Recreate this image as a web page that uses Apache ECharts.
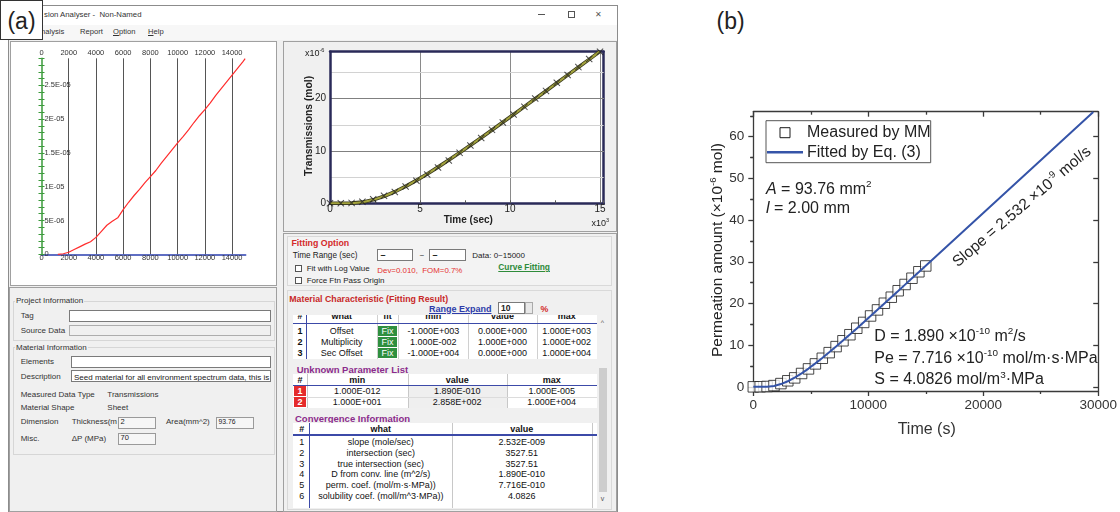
<!DOCTYPE html>
<html><head><meta charset="utf-8">
<script src="https://cdn.jsdelivr.net/npm/echarts@6/dist/echarts.min.js"></script>
<style>
html,body{margin:0;padding:0;background:#fff;width:1120px;height:512px;overflow:hidden;font-family:"Liberation Sans",Arial,sans-serif;}
#ui{position:absolute;left:0;top:0;width:1120px;height:512px;overflow:hidden;}
#chart{position:absolute;left:0;top:0;width:1120px;height:512px;z-index:2;}
.a{position:absolute;box-sizing:border-box;white-space:nowrap;}
</style></head><body>
<div id="ui"></div><div id="chart"></div>
<script>
// ---------------- data ----------------
const measT = [0,600,1200,1800,2400,3000,3600,4200,4800,5400,6000,6600,7200,7800,8400,9000,9600,10200,10800,11400,12000,12600,13200,13800,14400,15000];
const measQ = [0.00,0.02,0.08,0.30,0.78,1.45,2.15,3.20,4.30,5.50,6.85,8.20,9.65,11.05,12.50,14.05,15.45,17.00,18.45,20.05,21.50,23.05,24.55,26.05,27.60,29.00];
const fitT = [0,600,1200,1800,2400,3000,3600,4200,4800,5400,6000,6600,7200,7800,8400,9000,9600,10200,10800,11400,12000,12600,13200,13800,14400,15000,20000,25000,29570];
const fitQ = [0.00,0.00,0.03,0.22,0.66,1.34,2.21,3.23,4.38,5.62,6.92,8.28,9.68,11.11,12.55,14.02,15.50,16.99,18.49,19.99,21.49,23.00,24.52,26.03,27.54,29.06,41.71,54.37,65.94];
const rawT = [1200,1600,2000,2400,2800,3200,3600,4000,4400,4800,5200,5600,6000,6400,6800,7200,7600,8000,8400,8800,9200,9600,10000,10400,10800,11200,11600,12000,12400,12800,13200,13600,14000,14400,14800,14960];
const rawQ = [0.00,0.08,0.30,0.70,1.10,1.50,1.85,2.50,3.40,4.30,4.90,5.40,6.60,7.70,8.70,9.60,10.60,11.50,12.40,13.50,14.50,15.50,16.50,17.40,18.40,19.50,20.50,21.40,22.40,23.50,24.50,25.50,26.50,27.50,28.50,28.95];

const a1XTicks = [0,2000,4000,6000,8000,10000,12000,14000];
const a1YTickLabels = ['0','5E-06','1E-05','1.5E-05','2E-05','2.5E-05'];
const a2XTicks = [0,5,10,15];
const a2YTicks = [0,10,20];
const bXTicks = [0,10000,20000,30000];
const bYTicks = [0,10,20,30,40,50,60];
const bYMinor = [5,15,25,35,45,55,65];

const matHeader = ['#','what','fit','min','value','max'];
const matRows = [
  ['1','Offset','Fix','-1.000E+003','0.000E+000','1.000E+003'],
  ['2','Multiplicity','Fix','1.000E-002','1.000E+000','1.000E+002'],
  ['3','Sec Offset','Fix','-1.000E+004','0.000E+000','1.000E+004']];
const unkHeader = ['#','min','value','max'];
const unkRows = [['1','1.000E-012','1.890E-010','1.000E-005'],['2','1.000E+001','2.858E+002','1.000E+004']];
const convHeader = ['#','what','value',''];
const convRows = [
  ['1','slope (mole/sec)','2.532E-009'],
  ['2','intersection (sec)','3527.51'],
  ['3','true intersection (sec)','3527.51'],
  ['4','D from conv. line (m^2/s)','1.890E-010'],
  ['5','perm. coef. (mol/m·s·MPa))','7.716E-010'],
  ['6','solubility coef. (moll/m^3·MPa))','4.0826']];

// ---------------- UI (software window) ----------------
const U = document.getElementById('ui');
function mk(p,x,y,w,h,css,html){
  const d=document.createElement('div'); d.className='a';
  const ox=p._ox||0, oy=p._oy||0;
  d.style.cssText=`left:${x-ox}px;top:${y-oy}px;width:${w}px;height:${h}px;`+(css||'');
  d._ox=x; d._oy=y; if(html!=null) d.innerHTML=html; p.appendChild(d); return d;
}
function tx(p,x,yc,s,fs,css){const h=Math.round(fs*1.6);return mk(p,x,yc-h/2,400,h,`line-height:${h}px;font-size:${fs}px;color:#222;`+(css||''),s);}
function ct(p,x1,x2,yc,s,fs,css){const h=Math.round(fs*1.6);return mk(p,x1,yc-h/2,x2-x1,h,`line-height:${h}px;font-size:${fs}px;color:#111;text-align:center;overflow:hidden;`+(css||''),s);}

mk(U,8,5,610,507,'border:1px solid #8c8c8c;background:#f0f0f0;');
mk(U,9,6,608,19,'background:#fff;');
tx(U,44,14.5,'sion Analyser -&nbsp; Non-Named',7.8,'color:#333;');
mk(U,538,14,7,1,'background:#555;');
mk(U,567.5,10.5,7,7,'border:1px solid #555;');
tx(U,595,14,'✕',8,'color:#555;');
mk(U,9,25,608,15,'background:#f7f7f7;');
tx(U,36,31.5,'Analysis',7.6,'color:#333;');
tx(U,80,31.5,'Report',7.6,'color:#333;');
tx(U,113,31.5,'<u>O</u>ption',7.6,'color:#333;');
tx(U,148,31.5,'<u>H</u>elp',7.6,'color:#333;');
// panels
mk(U,10,40.5,267,245,'background:#fff;border:1px solid #a0a0a0;');
mk(U,9,287,268,225,'border:1px solid #a0a0a0;background:#f0f0f0;');
mk(U,283,40.5,334,191,'border:1px solid #a0a0a0;background:#f0f0f0;');
mk(U,283,233,334,279,'border:1px solid #a0a0a0;background:#f0f0f0;');

// lower-left information
mk(U,12.7,300.7,262.3,40.3,'border:1px solid #d6d6d6;');
tx(U,15,300.7,'Project Information',8,'background:#f0f0f0;width:auto;padding:0 1px;color:#333;');
tx(U,20.7,315.7,'Tag',8,'color:#333;'); mk(U,69.3,310,201.4,11.5,'background:#fff;border:1px solid #7a7a7a;');
tx(U,20.7,330.3,'Source Data',8,'color:#333;'); mk(U,69.3,324.5,201.4,11.5,'background:#f0f0f0;border:1px solid #adadad;');
mk(U,12.7,347.3,262.3,108,'border:1px solid #d6d6d6;');
tx(U,15,347.3,'Material Information',8,'background:#f0f0f0;width:auto;padding:0 1px;color:#333;');
tx(U,20.7,361.7,'Elements',8,'color:#333;'); mk(U,70.7,355.7,200,12,'background:#fff;border:1px solid #7a7a7a;');
tx(U,20.7,376,'Description',8,'color:#333;');
const dsc=mk(U,70.7,370,200,12,'background:#fff;border:1px solid #7a7a7a;overflow:hidden;');
tx(dsc,73,376,'Seed material for all environment spectrum data, this is',8,'color:#222;');
tx(U,20.7,394,'Measured Data Type',8,'color:#333;'); tx(U,107.3,394,'Transmissions',8,'color:#333;');
tx(U,20.7,407.3,'Material Shape',8,'color:#333;'); tx(U,107.3,407.3,'Sheet',8,'color:#333;');
tx(U,20.7,421.7,'Dimension',8,'color:#333;'); tx(U,71.7,421.7,'Thickness(m',8,'color:#333;');
mk(U,118.3,416.7,37.7,12,'background:#f6f6f6;border:1px solid #9a9a9a;'); tx(U,120.5,421.5,'2',7.5);
tx(U,166,421.7,'Area(mm^2)',8,'color:#333;');
mk(U,216,416.7,38,12,'background:#f6f6f6;border:1px solid #9a9a9a;'); tx(U,218.5,421.5,'93.76',6.8);
tx(U,20.7,438.3,'Misc.',8,'color:#333;'); tx(U,71.7,438.3,'ΔP (MPa)',8,'color:#333;');
mk(U,118.3,433,37.7,11.5,'background:#f6f6f6;border:1px solid #9a9a9a;'); tx(U,120.5,438,'70',7.5);

// fitting option
mk(U,287,236,325,50,'border:1px solid #d9d9d9;background:#f3f3f3;');
tx(U,291.5,242.7,'Fitting Option',8.8,'font-weight:bold;color:#d42a2a;');
tx(U,292.7,255,'Time Range (sec)',8.2);
mk(U,376.7,249,36.6,11.7,'background:#fff;border:1px solid #7a7a7a;'); tx(U,380.5,254.7,'–',9,'font-weight:bold;');
tx(U,419.5,255,'~',8);
mk(U,429.3,249,36.4,11.7,'background:#fff;border:1px solid #7a7a7a;'); tx(U,432.5,254.7,'–',9,'font-weight:bold;');
tx(U,472.3,255,'Data: 0~15000',8);
mk(U,295,265,7,7,'background:#fff;border:1px solid #555;'); tx(U,306.7,268.5,'Fit with Log Value',8);
tx(U,377.3,270,'Dev=0.010,&nbsp; FOM=0.7%',7.9,'color:#e53030;');
tx(U,498.3,267.7,'Curve Fitting',8.4,'font-weight:bold;color:#2e8b3a;text-decoration:underline;');
mk(U,295,276.5,7,7,'background:#fff;border:1px solid #555;'); tx(U,306.7,280,'Force Ftn Pass Origin',8);

// material characteristic
mk(U,287,290,325,220,'border:1px solid #d9d9d9;');
tx(U,289.3,299,'Material Characteristic (Fitting Result)',8.8,'font-weight:bold;color:#c82828;');
tx(U,429,308.5,'Range Expand',9,'font-weight:bold;color:#2d3caa;text-decoration:underline;');
mk(U,498.3,302.2,26.7,11.6,'background:#fff;border:1px solid #7a7a7a;'); tx(U,501,308,'10',8.5,'font-weight:bold;');
mk(U,525,302.2,8,11.6,'background:#e8e8e8;border:1px solid #aaa;');
tx(U,540.5,308.5,'%',8.8,'font-weight:bold;color:#d42a2a;');

// table 1
const c1=[293.3,306.7,376.7,398.3,468.3,536.7,596.7];
const t1=mk(U,293.3,315,303.4,43.5,'background:#fff;overflow:hidden;');
for(let i=2;i<c1.length-1;i++) mk(t1,c1[i],315,1,45,'background:#d0d0d0;');
matHeader.forEach((h,i)=>ct(t1,c1[i],c1[i+1],315.5,h,9,'font-weight:bold;'));
mk(t1,293.3,322.6,303.4,1.5,'background:#3c4aa8;');
mk(t1,c1[1]-1,315,1.5,45,'background:#3c4aa8;');
matRows.forEach((r,ri)=>{const yc=330.7+ri*11;r.forEach((c,ci)=>{
  if(ci===2){mk(t1,c1[2]+1.5,yc-5.2,c1[3]-c1[2]-3,10.4,'background:#2f8f3f;');ct(t1,c1[2],c1[3],yc,c,9,'color:#fff;');}
  else ct(t1,c1[ci],c1[ci+1],yc,c,9,ci===0?'font-weight:bold;':'');});});

// table 2
tx(U,296.7,369.3,'Unknown Parameter List',9.5,'font-weight:bold;color:#8b2b8b;');
const c2=[293.3,306.7,407.7,506.7,596.7];
const t2=mk(U,293.3,374,303.4,34,'background:#fff;overflow:hidden;');
mk(t2,407.7,386,99,22,'background:#efefef;');
for(let i=1;i<c2.length-1;i++) mk(t2,c2[i],374,1,34,'background:#c8c8c8;');
mk(t2,293.3,396.5,303.4,1,'background:#dcdcdc;');
unkHeader.forEach((h,i)=>ct(t2,c2[i],c2[i+1],380,h,9,'font-weight:bold;'));
mk(t2,293.3,384.8,303.4,1.5,'background:#3c4aa8;');
unkRows.forEach((r,ri)=>{const yc=391.2+ri*11;r.forEach((c,ci)=>{
  if(ci===0){mk(t2,293.8,yc-5.2,12.4,10.4,'background:#e52b2b;');ct(t2,c2[0],c2[1],yc,c,9,'color:#fff;font-weight:bold;');}
  else ct(t2,c2[ci],c2[ci+1],yc,c,9);});});

// table 3
tx(U,295,418.3,'Convergence Information',9.5,'font-weight:bold;color:#8b2b8b;');
const c3=[293.3,310,451.7,591.7,596.7];
const t3=mk(U,293.3,423,303.4,85,'background:#fff;overflow:hidden;');
for(let i=2;i<c3.length-1;i++) mk(t3,c3[i],423,1,85,'background:#c8c8c8;');
mk(t3,c3[1]-1,423,1.5,85,'background:#3c4aa8;');
convHeader.forEach((h,i)=>ct(t3,c3[i],c3[i+1],429.3,h,9,'font-weight:bold;'));
mk(t3,293.3,434,303.4,1.5,'background:#3c4aa8;');
convRows.forEach((r,ri)=>{const yc=441.7+ri*10.9;r.forEach((c,ci)=>ct(t3,c3[ci],c3[ci+1],yc,c,9));});

// scrollbar
mk(U,598,316,9,190,'background:#f0f0f0;');
mk(U,598.5,368,8,124,'background:#cdcdcd;');
ct(U,598,607,322,'^',7,'color:#555;');
ct(U,598,607,498,'v',7,'color:#555;');

// (a) label
mk(U,0,0,43,40,'border:1.5px solid #333;background:#fff;');
ct(U,0,43,21.5,'(a)',23,'color:#222;overflow:visible;');
// (b) label
tx(U,716.5,21.7,'(b)',23,'color:#222;');

// ---------------- charts ----------------
const FONT='"Liberation Sans", Arial, sans-serif';
const NAVY='#2a2a58', GREEN='#3a9a3a', AX='#3a3a3a';
const plain=v=>String(v);
const chart=echarts.init(document.getElementById('chart'),null,{renderer:'canvas'});
const hid={show:false};
const meas=measT.map((t,i)=>[t,measQ[i]]);
const fit=fitT.map((t,i)=>[t,fitQ[i]]);
const fitA=fit.filter(p=>p[0]<=15000).map(p=>[p[0]/1000,p[1]]);
const measA=meas.map(p=>[p[0]/1000,p[1]]);
const raw=rawT.map((t,i)=>[t,rawQ[i]*1e-6]);

function rich(fs){return {
  n:{fontSize:fs,fontFamily:FONT,fill:'#222',color:'#222',lineHeight:fs*1.25},
  i:{fontSize:fs,fontFamily:FONT,fontStyle:'italic',fill:'#222',color:'#222',lineHeight:fs*1.25},
  b:{fontSize:fs,fontFamily:FONT,fontWeight:'bold',fill:'#222',color:'#222',lineHeight:fs*1.25},
  s:{fontSize:fs*0.62,fontFamily:FONT,fill:'#222',color:'#222',lineHeight:fs*0.7,verticalAlign:'top'}};}
function T(x,y,text,fs,opt){opt=opt||{};return {type:'text',x:x,y:y,rotation:opt.rot||0,z:100,
  style:{text:text,rich:rich(fs),align:opt.align||'left',verticalAlign:'middle'}};}

const option={
  animation:false,
  textStyle:{fontFamily:FONT},
  grid:[
    {left:41.5,top:58.3,width:204.2,height:196},
    {left:330,top:51.7,width:273.6,height:151.6,show:true,backgroundColor:'#fff',borderWidth:0},
    {left:753.3,top:111.7,width:346,height:279.3}
  ],
  xAxis:[
    {gridIndex:0,type:'value',position:'bottom',min:0,max:15000,interval:a1XTicks[1]-a1XTicks[0],
     axisLine:{show:true,onZero:false,lineStyle:{color:'#2b3fb0',width:1.5}},axisTick:hid,
     axisLabel:{fontSize:7.5,color:'#333',margin:0,showMaxLabel:false,formatter:plain},
     splitLine:{show:true,showMinLine:false,showMaxLine:false,lineStyle:{color:'#555',width:1}}},
    {gridIndex:0,type:'value',position:'top',min:0,max:15000,interval:a1XTicks[1]-a1XTicks[0],
     axisLine:hid,axisTick:hid,axisLabel:{fontSize:7.5,color:'#333',margin:1,showMaxLabel:false,formatter:plain},splitLine:hid},
    {gridIndex:1,type:'value',position:'bottom',min:0,max:15.2,interval:a2XTicks[1]-a2XTicks[0],
     axisLine:{show:true,onZero:false,lineStyle:{color:NAVY,width:2.5}},axisTick:hid,
     axisLabel:{fontSize:10,color:'#222',margin:1,showMaxLabel:false,formatter:plain},
     splitLine:{show:true,showMinLine:false,showMaxLine:false,lineStyle:{color:'#8a8a8a',width:1}}},
    {gridIndex:1,type:'value',position:'top',min:0,max:15.2,
     axisLine:{show:true,onZero:false,lineStyle:{color:NAVY,width:2.5}},axisTick:hid,axisLabel:hid,splitLine:hid},
    {gridIndex:1,type:'value',position:'bottom',min:0,max:15.2,interval:2.5,
     axisLine:hid,axisTick:{show:true,inside:true,length:3,lineStyle:{color:'#555'}},axisLabel:hid,splitLine:hid},
    {gridIndex:2,type:'value',position:'bottom',min:0,max:30000,interval:bXTicks[1]-bXTicks[0],
     axisLine:{show:true,onZero:false,lineStyle:{color:AX,width:1.3}},
     axisTick:{show:true,inside:false,length:5,lineStyle:{color:AX,width:1.3}},
     minorTick:{show:true,splitNumber:2,length:3,lineStyle:{color:AX,width:1.3}},
     axisLabel:{fontSize:13.5,color:'#333',margin:7,formatter:plain},splitLine:hid},
    {gridIndex:2,type:'value',position:'top',min:0,max:30000,interval:bXTicks[1]-bXTicks[0],
     axisLine:{show:true,onZero:false,lineStyle:{color:AX,width:1.3}},
     axisTick:{show:true,inside:true,length:5,lineStyle:{color:AX,width:1.3}},
     minorTick:{show:true,splitNumber:2,length:3,lineStyle:{color:AX,width:1.3}},
     axisLabel:hid,splitLine:hid}
  ],
  yAxis:[
    {gridIndex:0,type:'value',position:'left',min:0,max:2.9e-5,interval:5e-6,axisLine:hid,axisTick:hid,
     axisLabel:{inside:true,fontSize:7.5,color:'#333',margin:3,showMaxLabel:false,
       formatter:v=>{const i=Math.round(v/5e-6);return Math.abs(v-i*5e-6)<1e-10?(a1YTickLabels[i]||''):'';}},
     splitLine:hid},
    {gridIndex:0,type:'value',position:'left',min:0,max:2.9e-5,interval:1e-6,
     axisLine:{show:true,onZero:false,lineStyle:{color:GREEN,width:1.5}},
     axisTick:{show:true,inside:true,length:3,lineStyle:{color:GREEN,width:1}},axisLabel:hid,splitLine:hid},
    {gridIndex:0,type:'value',position:'left',min:0,max:2.9e-5,interval:1e-6,axisLine:hid,
     axisTick:{show:true,inside:false,length:3,lineStyle:{color:GREEN,width:1}},axisLabel:hid,splitLine:hid},
    {gridIndex:1,type:'value',position:'left',min:0,max:29,interval:a2YTicks[1]-a2YTicks[0],z:3,
     axisLine:{show:true,onZero:false,lineStyle:{color:NAVY,width:2.5}},axisTick:hid,
     axisLabel:{fontSize:10,color:'#222',margin:4,showMaxLabel:false,formatter:plain},
     splitLine:{show:true,showMinLine:false,showMaxLine:false,lineStyle:{color:'#808080',width:1}}},
    {gridIndex:1,type:'value',position:'left',min:0,max:29,interval:5,z:1,axisLine:hid,axisTick:hid,axisLabel:hid,
     splitLine:{show:true,showMinLine:false,showMaxLine:false,lineStyle:{color:'#d2d2d2',width:1}}},
    {gridIndex:1,type:'value',position:'right',min:0,max:29,
     axisLine:{show:true,onZero:false,lineStyle:{color:NAVY,width:2.5}},axisTick:hid,axisLabel:hid,splitLine:hid},
    {gridIndex:2,type:'value',position:'left',min:-1,max:66,
     axisLine:{show:true,onZero:false,lineStyle:{color:AX,width:1.3}},
     axisTick:{show:true,inside:false,length:5,customValues:bYTicks,lineStyle:{color:AX,width:1.3}},
     axisLabel:{customValues:bYTicks,fontSize:13.5,color:'#333',margin:9,formatter:plain},splitLine:hid},
    {gridIndex:2,type:'value',position:'left',min:-1,max:66,axisLine:hid,
     axisTick:{show:true,inside:false,length:3,customValues:bYMinor,lineStyle:{color:AX,width:1.3}},axisLabel:hid,splitLine:hid},
    {gridIndex:2,type:'value',position:'right',min:-1,max:66,
     axisLine:{show:true,onZero:false,lineStyle:{color:AX,width:1.3}},
     axisTick:{show:true,inside:true,length:5,customValues:bYTicks,lineStyle:{color:AX,width:1.3}},axisLabel:hid,splitLine:hid},
    {gridIndex:2,type:'value',position:'right',min:-1,max:66,axisLine:hid,
     axisTick:{show:true,inside:true,length:3,customValues:bYMinor,lineStyle:{color:AX,width:1.3}},axisLabel:hid,splitLine:hid}
  ],
  series:[
    {name:'Raw transmission',type:'line',xAxisIndex:0,yAxisIndex:0,data:raw,symbol:'none',
     lineStyle:{color:'#ff2d2d',width:1.2},z:3},
    {name:'Fit outline',type:'line',xAxisIndex:2,yAxisIndex:3,data:fitA,symbol:'none',
     lineStyle:{color:'#3b3b1e',width:3.6},z:3},
    {name:'Fit',type:'line',xAxisIndex:2,yAxisIndex:3,data:fitA,symbol:'none',
     lineStyle:{color:'#a3a33c',width:2},z:4},
    {name:'Measured',type:'scatter',xAxisIndex:2,yAxisIndex:3,data:measA,
     symbol:'path://M1,0L5,4L9,0L10,1L6,5L10,9L9,10L5,6L1,10L0,9L4,5L0,1Z',symbolSize:7,
     itemStyle:{color:'#222'},z:5},
    {name:'Measured by MM',type:'scatter',xAxisIndex:5,yAxisIndex:6,data:meas,symbol:'rect',symbolSize:10.5,
     itemStyle:{color:'#fff',borderColor:'#1a1a1a',borderWidth:1},z:3},
    {name:'Fitted by Eq. (3)',type:'line',xAxisIndex:5,yAxisIndex:6,data:fit,symbol:'none',
     lineStyle:{color:'#3554a8',width:2},z:5}
  ],
  graphic:[
    T(305,53.5,'{n|x10}{s|-6}',9),
    {type:'text',x:309.3,y:126,rotation:Math.PI/2,z:100,style:{text:'Transmissions (mol)',fontSize:10.3,fontWeight:'bold',fontFamily:FONT,fill:'#222',align:'center',verticalAlign:'middle'}},
    {type:'text',x:468.3,y:220,z:100,style:{text:'Time (sec)',fontSize:10,fontWeight:'bold',fontFamily:FONT,fill:'#222',align:'center',verticalAlign:'middle'}},
    T(591.5,223.5,'{n|x10}{s|3}',9),
    // panel b
    {type:'text',x:926.7,y:430,z:100,style:{text:'Time (s)',fontSize:16,fontFamily:FONT,fill:'#333',align:'center',verticalAlign:'middle'}},
    T(717.8,250,'{n|Permeation amount (×10}{s|-6}{n| mol)}',15.5,{rot:Math.PI/2,align:'center'}),
    {type:'rect',z:90,shape:{x:766,y:120.7,width:164.7,height:42},style:{fill:'#fff',stroke:'#555',lineWidth:1}},
    {type:'rect',z:91,shape:{x:780,y:127.7,width:10,height:10},style:{fill:'#fff',stroke:'#1a1a1a',lineWidth:1}},
    {type:'line',z:91,shape:{x1:767,y1:152.3,x2:803,y2:152.3},style:{stroke:'#3554a8',lineWidth:2.5}},
    T(807,132.7,'{n|Measured by MM}',16),
    T(807,152.3,'{n|Fitted by Eq. (3)}',16),
    T(766,189.3,'{i|A}{n| = 93.76 mm}{s|2}',16),
    T(766,208.3,'{i|l}{n| = 2.00 mm}',16),
    T(1022,207,'{n|Slope = 2.532 ×10}{s|-9}{n| mol/s}',15.5,{rot:40.5*Math.PI/180,align:'center'}),
    T(874.3,336.7,'{n|D = 1.890 ×10}{s|-10}{n| m}{s|2}{n|/s}',16),
    T(874.3,358.3,'{n|Pe = 7.716 ×10}{s|-10}{n| mol/m·s·MPa}',16),
    T(874.3,380,'{n|S = 4.0826 mol/m}{s|3}{n|·MPa}',16)
  ]
};
chart.setOption(option);
</script>
</body></html>
